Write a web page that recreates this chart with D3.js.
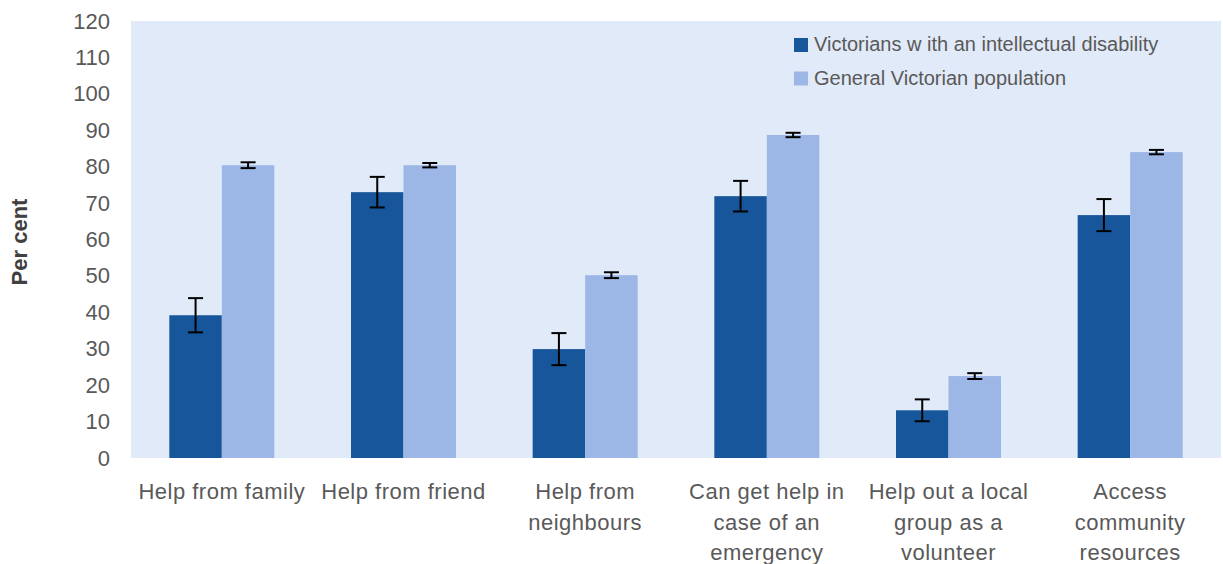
<!DOCTYPE html>
<html>
<head>
<meta charset="utf-8">
<script src="https://cdn.jsdelivr.net/npm/d3@7"></script>
<style>
  html, body { margin: 0; padding: 0; background: #ffffff; }
  svg { display: block; font-family: "Liberation Sans", Arial, sans-serif; }
</style>
</head>
<body>
<svg id="chart" width="1223" height="564"></svg>
<script>
const categories = [
  "Help from family",
  "Help from friend",
  "Help from\nneighbours",
  "Can get help in\ncase of an\nemergency",
  "Help out a local\ngroup as a\nvolunteer",
  "Access\ncommunity\nresources"
];
const seriesNames = ["Victorians w ith an intellectual disability", "General Victorian population"];
const disabilityValues = [39.2, 73.0, 29.9, 71.9, 13.1, 66.7];
const disabilityErrors = [4.7, 4.2, 4.4, 4.2, 3.0, 4.4];
const generalValues = [80.4, 80.4, 50.2, 88.7, 22.5, 84.0];
const generalErrors = [0.8, 0.6, 0.8, 0.6, 0.8, 0.6];
const yTicks = [0, 10, 20, 30, 40, 50, 60, 70, 80, 90, 100, 110, 120];
const colors = ["#17569B", "#9CB6E5"];

const svg = d3.select("#chart");
const plot = { left: 131, right: 1221, top: 21, bottom: 458 };

const y = d3.scaleLinear().domain([0, 120]).range([plot.bottom, plot.top]);
const x0 = d3.scaleBand().domain(categories).range([plot.left, plot.right])
  .paddingInner(0.422).paddingOuter(0.211);
const x1 = d3.scaleBand().domain(seriesNames).range([0, x0.bandwidth()]);

// background
svg.append("rect")
  .attr("x", plot.left).attr("y", plot.top)
  .attr("width", plot.right - plot.left).attr("height", plot.bottom - plot.top)
  .attr("fill", "#E1EAF8");

const data = categories.map((c, i) => ({
  cat: c,
  vals: [
    { s: seriesNames[0], v: disabilityValues[i], e: disabilityErrors[i] },
    { s: seriesNames[1], v: generalValues[i], e: generalErrors[i] }
  ]
}));

const groups = svg.append("g").selectAll("g").data(data).join("g")
  .attr("transform", d => `translate(${x0(d.cat)},0)`);

groups.selectAll("rect").data(d => d.vals).join("rect")
  .attr("x", d => x1(d.s))
  .attr("y", d => y(d.v))
  .attr("width", x1.bandwidth())
  .attr("height", d => y(0) - y(d.v))
  .attr("fill", (d, i) => colors[i]);

// error bars
const eb = groups.selectAll("g.err").data(d => d.vals).join("g").attr("class", "err")
  .attr("transform", d => `translate(${x1(d.s) + x1.bandwidth() / 2},0)`);
eb.append("line").attr("x1", 0).attr("x2", 0)
  .attr("y1", d => y(d.v + d.e)).attr("y2", d => y(d.v - d.e))
  .attr("stroke", "#000").attr("stroke-width", 2);
eb.append("line").attr("x1", -7.5).attr("x2", 7.5)
  .attr("y1", d => y(d.v + d.e)).attr("y2", d => y(d.v + d.e))
  .attr("stroke", "#000").attr("stroke-width", 2);
eb.append("line").attr("x1", -7.5).attr("x2", 7.5)
  .attr("y1", d => y(d.v - d.e)).attr("y2", d => y(d.v - d.e))
  .attr("stroke", "#000").attr("stroke-width", 2);

// y axis
const yAxis = d3.axisLeft(y).tickValues(yTicks).tickSize(0).tickPadding(21);
const ya = svg.append("g").attr("transform", `translate(${plot.left},0)`).call(yAxis);
ya.select(".domain").remove();
ya.selectAll("text").attr("fill", "#595959").style("font-size", "22px")
  .style("font-family", "'Liberation Sans', Arial, sans-serif");

// x axis labels
const xAxis = d3.axisBottom(x0).tickSize(0).tickFormat("");
const xa = svg.append("g").attr("transform", `translate(0,${plot.bottom})`).call(xAxis);
xa.select(".domain").remove();
xa.selectAll(".tick").each(function(d) {
  const t = d3.select(this).append("text")
    .attr("fill", "#595959").attr("text-anchor", "middle")
    .style("font-size", "22px").style("letter-spacing", "0.5px")
    .style("font-family", "'Liberation Sans', Arial, sans-serif");
  d.split("\n").forEach((line, i) => {
    t.append("tspan").attr("x", 0).attr("y", 41 + i * 30.5).text(line);
  });
});

// y title
svg.append("text")
  .attr("transform", "translate(27,242) rotate(-90)")
  .attr("text-anchor", "middle")
  .attr("fill", "#404040")
  .style("font-size", "22px").style("font-weight", "bold")
  .text("Per cent");

// legend
const legend = svg.append("g");
seriesNames.forEach((s, i) => {
  legend.append("rect").attr("x", 794).attr("y", 38 + i * 33.5)
    .attr("width", 14).attr("height", 14).attr("fill", colors[i]);
  legend.append("text").attr("x", 814).attr("y", 51 + i * 33.5)
    .attr("fill", "#595959").style("font-size", "20px")
    .text(s);
});
</script>
</body>
</html>
